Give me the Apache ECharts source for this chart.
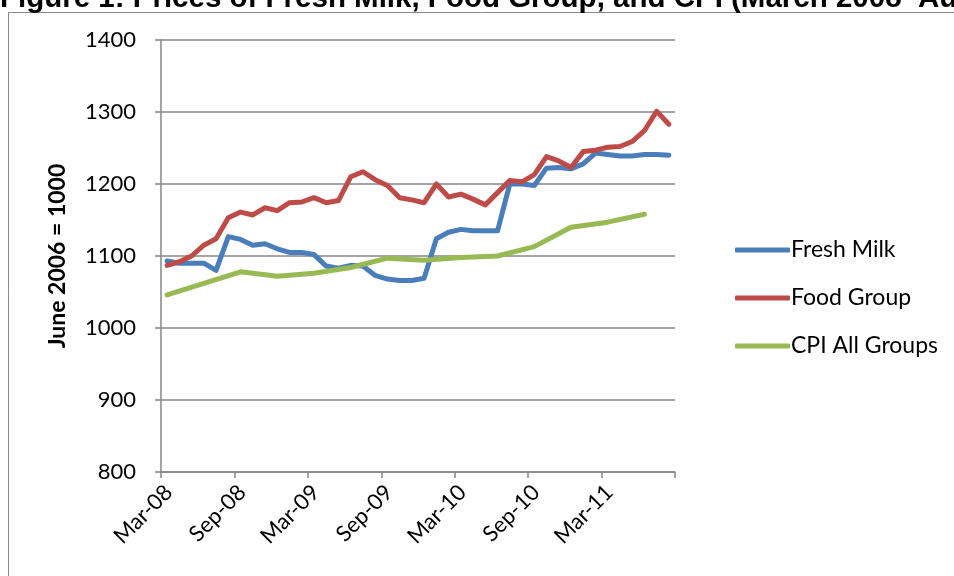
<!DOCTYPE html>
<html lang="en">
<head>
  <meta charset="UTF-8">
  <title>Fresh Milk, Food Group and CPI</title>
  <style>
    body { margin: 0; padding: 0; background: #fff; }
    #chart { width: 954px; height: 576px; }
  </style>
</head>
<body>
  <div id="chart"></div>
  <script src="https://cdn.jsdelivr.net/npm/echarts@6.0.0/dist/echarts.min.js"></script>
  <script>
    // monthly categories, Mar-08 .. Aug-11
    const months = [
      'Mar-08','Apr-08','May-08','Jun-08','Jul-08','Aug-08','Sep-08','Oct-08','Nov-08','Dec-08',
      'Jan-09','Feb-09','Mar-09','Apr-09','May-09','Jun-09','Jul-09','Aug-09','Sep-09','Oct-09','Nov-09','Dec-09',
      'Jan-10','Feb-10','Mar-10','Apr-10','May-10','Jun-10','Jul-10','Aug-10','Sep-10','Oct-10','Nov-10','Dec-10',
      'Jan-11','Feb-11','Mar-11','Apr-11','May-11','Jun-11','Jul-11','Aug-11'
    ];
    const tickLabels = ['Mar-08', 'Sep-08', 'Mar-09', 'Sep-09', 'Mar-10', 'Sep-10', 'Mar-11', ''];

    const freshMilk = [
      1093, 1090, 1090, 1090, 1080, 1127, 1123, 1115, 1117, 1110,
      1105, 1105, 1102, 1086, 1083, 1087, 1086, 1073, 1068, 1066, 1066, 1069,
      1124, 1133, 1137, 1135, 1135, 1135, 1200, 1200, 1198, 1222, 1223, 1221,
      1228, 1243, 1241, 1239, 1239, 1241, 1241, 1240
    ];
    const foodGroup = [
      1087, 1092, 1100, 1115, 1124, 1153, 1161, 1157, 1167, 1163,
      1174, 1175, 1181, 1174, 1177, 1210, 1217, 1206, 1198, 1181, 1178, 1174,
      1200, 1182, 1186, 1179, 1171, 1188, 1205, 1203, 1213, 1238, 1232, 1223,
      1245, 1247, 1251, 1252, 1259, 1274, 1301, 1283
    ];
    // CPI is quarterly
    const cpiAll = [
      1046, null, null, 1062, null, null, 1078, null, null, 1072,
      null, null, 1076, null, null, 1084, null, null, 1097, null, null, 1094,
      null, null, 1098, null, null, 1100, null, null, 1113, null, null, 1140,
      null, null, 1147, null, null, 1158, null, null
    ];

    // each month sits in the middle of its slot on the date axis
    function toPoints(values) {
      const pts = [];
      values.forEach((v, i) => { if (v !== null) pts.push([i + 0.5, v]); });
      return pts;
    }

    const labelFont = 'Lato, "DejaVu Sans", sans-serif';
    const gridGray = '#868686';

    const chart = echarts.init(document.getElementById('chart'));

    const lineSeries = (name, values, color) => ({
      name: name,
      type: 'line',
      data: toPoints(values),
      symbol: 'none',
      connectNulls: true,
      lineStyle: { color: color, width: 5, cap: 'round', join: 'round' },
      itemStyle: { color: color }
    });

    chart.setOption({
      animation: false,
      backgroundColor: '#fff',
      graphic: [
        {
          type: 'rect',
          shape: { x: 8.5, y: 12.5, width: 1000, height: 700 },
          style: { fill: 'none', stroke: '#898989', lineWidth: 1 },
          silent: true
        },
        {
          type: 'text',
          left: 0,
          top: -16,
          style: {
            text: 'Figure 1: Prices of Fresh Milk, Food Group, and CPI (March 2008\u2013August 2011)',
            font: 'bold 29.5px "Liberation Sans", Arial, sans-serif',
            fill: '#000'
          },
          silent: true
        }
      ],
      grid: { left: 161, right: 279, top: 40, bottom: 104 },
      legend: {
        orient: 'vertical',
        left: 730,
        top: 232,
        icon: 'roundRect',
        itemWidth: 55,
        itemHeight: 5,
        itemGap: 22,
        textStyle: { fontFamily: labelFont, fontSize: 23, lineHeight: 26, color: '#000', padding: [0, 0, 0, -4] },
        data: ['Fresh Milk', 'Food Group', 'CPI All Groups']
      },
      xAxis: {
        type: 'value',
        min: 0,
        max: 42,
        interval: 6,
        axisLine: { show: true, lineStyle: { color: gridGray, width: 1.5 } },
        axisTick: { show: true, inside: false, length: 6, lineStyle: { color: gridGray, width: 1.5 } },
        splitLine: { show: false },
        axisLabel: {
          rotate: 45,
          margin: 9,
          verticalAlign: 'top',
          fontFamily: labelFont,
          fontSize: 22,
          color: '#000',
          showMaxLabel: true,
          formatter: (v) => tickLabels[Math.round(v / 6)] || ''
        }
      },
      yAxis: {
        type: 'value',
        min: 800,
        max: 1400,
        interval: 100,
        name: 'June 2006 = 1000',
        nameLocation: 'middle',
        nameGap: 92,
        nameTextStyle: { fontFamily: labelFont, fontSize: 23, fontWeight: 'bold', color: '#000' },
        axisLine: { show: true, lineStyle: { color: gridGray, width: 1.5 } },
        axisTick: { show: true, inside: false, length: 6, lineStyle: { color: gridGray, width: 1.5 } },
        splitLine: { show: true, lineStyle: { color: gridGray, width: 1.5 } },
        axisLabel: {
          margin: 25,
          fontFamily: labelFont,
          fontSize: 22,
          color: '#000',
          formatter: (v) => String(v)
        }
      },
      series: [
        lineSeries('Fresh Milk', freshMilk, '#4A7EBB'),
        lineSeries('Food Group', foodGroup, '#BE4B48'),
        lineSeries('CPI All Groups', cpiAll, '#98B954')
      ]
    });
  </script>
</body>
</html>
